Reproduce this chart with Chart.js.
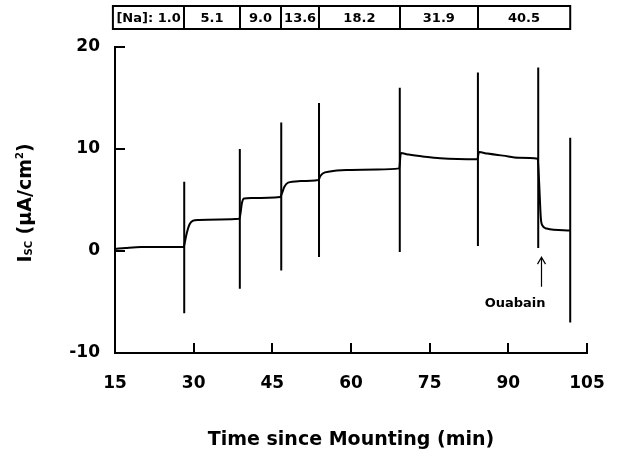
<!DOCTYPE html>
<html>
<head>
<meta charset="utf-8">
<script src="https://cdn.jsdelivr.net/npm/chart.js@4/dist/chart.umd.min.js"></script>
<style>
  html, body { margin: 0; padding: 0; background: #fff; }
  #wrap { width: 619px; height: 451px; }
</style>
</head>
<body>
<div id="wrap"><canvas id="chart" width="619" height="451"></canvas></div>
<script>
// trace of short-circuit current (µA/cm²) against time (min)
const traceTimes = [15, 17, 20, 24, 28.1, 28.3, 28.7, 29.2, 29.8, 31, 35, 38.7, 38.9, 39.2, 39.6, 41, 46.5,
    46.8, 47.3, 48, 50, 53.8, 54.1, 54.6, 56, 60, 65, 69.2, 69.5, 71, 74, 77, 84.1, 84.4, 86, 89, 92,
    95.6, 95.8, 96.2, 96.5, 97.3, 101.8];
const traceValues = [0.2, 0.3, 0.4, 0.4, 0.4, 0.8, 1.8, 2.6, 2.95, 3.05, 3.1, 3.15, 3.6, 4.7, 5.15, 5.2, 5.3,
    5.6, 6.3, 6.7, 6.85, 6.95, 7.3, 7.6, 7.8, 7.95, 8.0, 8.1, 9.6, 9.45, 9.25, 9.1, 9.0, 9.7, 9.55, 9.35, 9.15,
    9.05, 7.5, 3.2, 2.5, 2.2, 2.0];

// vertical deflections at each solution change
const spikeTimes = [28.2, 38.8, 46.7, 53.9, 69.3, 84.2, 95.7, 101.8];
const spikeTops = [6.8, 10.0, 12.6, 14.5, 16.0, 17.5, 18.0, 11.1];
const spikeBottoms = [-6.1, -3.7, -1.9, -0.6, -0.1, 0.5, 0.3, -7.0];

// [Na] bar along the top
const naLabels = ['[Na]: 1.0', '5.1', '9.0', '13.6', '18.2', '31.9', '40.5'];
const naBounds = [14.6, 28.2, 38.8, 46.7, 53.9, 69.3, 84.2, 101.8];

const xTicks = [15, 30, 45, 60, 75, 90, 105];
const yTicks = [-10, 0, 10, 20];

const ouabainTime = 96.2;
const ouabainLabelTime = 91.3;

const FONT = '"DejaVu Sans", sans-serif';

const tracePoints = traceTimes.map((t, i) => ({ x: t, y: traceValues[i] }));
const spikePoints = [];
spikeTimes.forEach((t, i) => {
    spikePoints.push({ x: t, y: spikeTops[i] });
    spikePoints.push({ x: t, y: spikeBottoms[i] });
    spikePoints.push({ x: t, y: null });
});

const extras = {
    id: 'extras',
    afterDraw(chart) {
        const ctx = chart.ctx;
        const xs = chart.scales.x;
        const ys = chart.scales.y;
        const area = chart.chartArea;
        ctx.save();
        ctx.strokeStyle = '#000';
        ctx.fillStyle = '#000';

        // inward tick marks
        ctx.lineWidth = 2;
        ctx.beginPath();
        yTicks.forEach(v => {
            const py = Math.round(ys.getPixelForValue(v));
            ctx.moveTo(area.left, py);
            ctx.lineTo(area.left + 10, py);
        });
        xTicks.forEach(v => {
            const px = Math.round(xs.getPixelForValue(v));
            ctx.moveTo(px, area.bottom);
            ctx.lineTo(px, area.bottom - 10);
        });
        ctx.stroke();

        // [Na] bar
        const top = 6, bottom = 29;
        const left = xs.getPixelForValue(naBounds[0]);
        const right = xs.getPixelForValue(naBounds[naBounds.length - 1]);
        ctx.lineWidth = 2;
        ctx.strokeRect(left, top, right - left, bottom - top);
        ctx.beginPath();
        naBounds.slice(1, -1).forEach(t => {
            const px = Math.round(xs.getPixelForValue(t));
            ctx.moveTo(px, top);
            ctx.lineTo(px, bottom);
        });
        ctx.stroke();
        ctx.font = 'bold 13px ' + FONT;
        ctx.textAlign = 'center';
        ctx.textBaseline = 'middle';
        naLabels.forEach((lab, i) => {
            const a = xs.getPixelForValue(naBounds[i]);
            const b = xs.getPixelForValue(naBounds[i + 1]);
            ctx.fillText(lab, (a + b) / 2, (top + bottom) / 2 + 1);
        });

        // ouabain arrow
        const ax = Math.round(xs.getPixelForValue(ouabainTime)) + 0.5;
        const ay1 = ys.getPixelForValue(-0.6);
        const ay2 = ys.getPixelForValue(-3.5);
        ctx.lineWidth = 1.2;
        ctx.beginPath();
        ctx.moveTo(ax, ay1);
        ctx.lineTo(ax, ay2);
        ctx.moveTo(ax - 4, ay1 + 7);
        ctx.lineTo(ax, ay1);
        ctx.lineTo(ax + 4, ay1 + 7);
        ctx.stroke();
        ctx.font = 'bold 13px ' + FONT;
        ctx.textBaseline = 'alphabetic';
        ctx.fillText('Ouabain', xs.getPixelForValue(ouabainLabelTime), ys.getPixelForValue(-5.5));

        // x title
        ctx.font = 'bold 19px ' + FONT;
        ctx.textAlign = 'center';
        ctx.fillText('Time since Mounting (min)', (area.left + area.right) / 2, 445);

        // y title with subscript and superscript
        const big = 'bold 19px ' + FONT;
        const small = 'bold 10px ' + FONT;
        const parts = [
            { s: 'I', f: big, dy: 0 },
            { s: 'SC', f: small, dy: 1 },
            { s: ' (µA/cm', f: big, dy: 0 },
            { s: '2', f: small, dy: -8 },
            { s: ')', f: big, dy: 0 }
        ];
        let total = 0;
        parts.forEach(p => { ctx.font = p.f; p.w = ctx.measureText(p.s).width; total += p.w; });
        ctx.translate(31, 203);
        ctx.rotate(-Math.PI / 2);
        ctx.textAlign = 'left';
        let cx = -total / 2;
        parts.forEach(p => {
            ctx.font = p.f;
            ctx.fillText(p.s, cx, p.dy);
            cx += p.w;
        });
        ctx.restore();
    }
};

new Chart(document.getElementById('chart'), {
    type: 'line',
    data: {
        datasets: [
            {
                data: tracePoints,
                borderColor: '#000',
                borderWidth: 2,
                pointRadius: 0,
                cubicInterpolationMode: 'monotone',
                fill: false
            },
            {
                data: spikePoints,
                borderColor: '#000',
                borderWidth: 2,
                pointRadius: 0,
                spanGaps: false,
                fill: false
            }
        ]
    },
    options: {
        responsive: false,
        animation: false,
        layout: { padding: { top: 47, right: 32, left: 0, bottom: 0 } },
        plugins: { legend: { display: false }, tooltip: { enabled: false } },
        scales: {
            x: {
                type: 'linear',
                min: 15,
                max: 105,
                afterBuildTicks: s => { s.ticks = xTicks.map(v => ({ value: v })); },
                afterFit: s => { s.height = 98; s.paddingLeft = 0; s.paddingRight = 0; },
                grid: { display: false, drawTicks: false },
                border: { display: true, color: '#000', width: 2 },
                ticks: { color: '#000', font: { family: FONT, size: 17, weight: 'bold' }, padding: 20, maxRotation: 0 }
            },
            y: {
                type: 'linear',
                min: -10,
                max: 20,
                afterBuildTicks: s => { s.ticks = yTicks.map(v => ({ value: v })); },
                afterFit: s => { s.width = 115; s.paddingTop = 0; s.paddingBottom = 0; },
                grid: { display: false, drawTicks: false },
                border: { display: true, color: '#000', width: 2 },
                ticks: { color: '#000', font: { family: FONT, size: 17, weight: 'bold' }, padding: 15 }
            }
        }
    },
    plugins: [extras]
});
</script>
</body>
</html>
